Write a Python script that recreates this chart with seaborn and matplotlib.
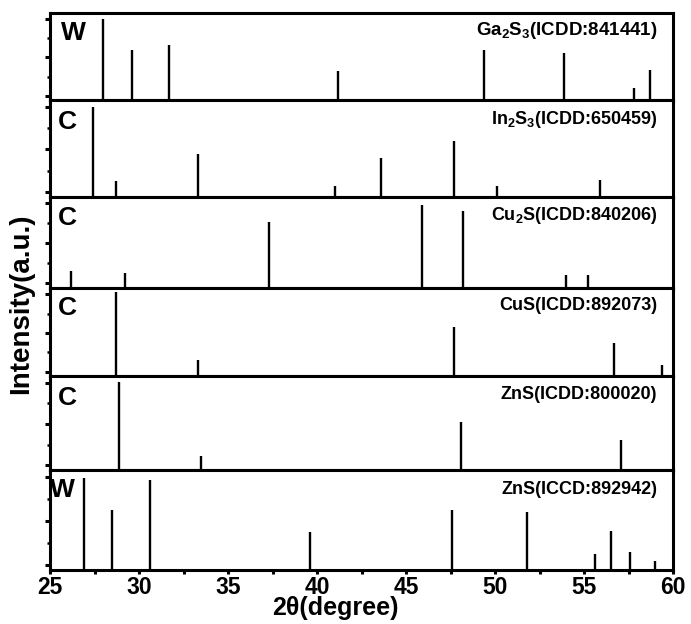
import matplotlib
matplotlib.use("Agg")
import matplotlib.pyplot as plt
import seaborn as sns
import numpy as np
from matplotlib.ticker import MultipleLocator, FixedLocator

# ---- data (2theta positions, relative intensities) ----
ga2s3_pos = [28.0, 29.6, 31.7, 41.2, 49.4, 53.9, 57.8, 58.7]
ga2s3_int = [93, 57, 63, 33, 57, 54, 14, 34]

in2s3_pos = [27.4, 28.7, 33.3, 41.0, 43.6, 47.7, 50.1, 55.9]
in2s3_int = [93, 17, 44, 11, 40, 58, 11, 18]

cu2s_pos = [26.2, 29.2, 37.3, 45.9, 48.2, 54.0, 55.2]
cu2s_int = [19, 17, 73, 91, 85, 14, 14]

cus_pos = [28.7, 33.3, 47.7, 56.7, 59.4]
cus_int = [96, 18, 56, 38, 12]

zns1_pos = [28.9, 33.5, 48.1, 57.1]
zns1_int = [94, 15, 51, 32]

zns2_pos = [26.9, 28.5, 30.6, 39.6, 47.6, 51.8, 55.6, 56.5, 57.6, 59.0]
zns2_int = [92, 60, 90, 38, 60, 58, 16, 39, 18, 9]

panel_tags = ["W", "C", "C", "C", "C", "W"]
panel_names = [r"Ga$_2$S$_3$(ICDD:841441)", r"In$_2$S$_3$(ICDD:650459)",
               r"Cu$_2$S(ICDD:840206)", "CuS(ICDD:892073)",
               "ZnS(ICDD:800020)", "ZnS(ICCD:892942)"]
positions = [ga2s3_pos, in2s3_pos, cu2s_pos, cus_pos, zns1_pos, zns2_pos]
intensities = [ga2s3_int, in2s3_int, cu2s_int, cus_int, zns1_int, zns2_int]

x_ticks = [25, 30, 35, 40, 45, 50, 55, 60]
x_label = "2\u03b8(degree)"
y_label = "Intensity(a.u.)"

# ---- style ----
sns.set_theme(style="ticks")
plt.rcParams["font.family"] = ["Liberation Sans", "DejaVu Sans"]
plt.rcParams["font.weight"] = "bold"
plt.rcParams["text.color"] = "black"
plt.rcParams["axes.labelcolor"] = "black"
plt.rcParams["xtick.color"] = "black"
plt.rcParams["ytick.color"] = "black"
plt.rcParams["mathtext.fontset"] = "custom"
plt.rcParams["mathtext.default"] = "bf"
plt.rcParams["mathtext.bf"] = "Liberation Sans:bold"
plt.rcParams["mathtext.rm"] = "Liberation Sans:bold"

fig = plt.figure(figsize=(6.91, 6.24), dpi=100)
gs = fig.add_gridspec(6, 1, height_ratios=[87, 97, 91, 88, 94, 100], hspace=0,
                      left=50/691, right=673/691, top=1-13/624, bottom=1-570/624)

name_sizes = [13.5, 13, 13, 13, 13, 13]
axes = []
for i in range(6):
    ax = fig.add_subplot(gs[i])
    axes.append(ax)
    ax.vlines(positions[i], 0, intensities[i], color="black", linewidth=1.7)
    ax.set_xlim(25, 60)
    ax.set_ylim(0, 100)
    for s in ax.spines.values():
        s.set_linewidth(2.2)
        s.set_color("black")
    ax.xaxis.set_major_locator(FixedLocator(x_ticks))
    ax.xaxis.set_minor_locator(MultipleLocator(2.5))
    ax.yaxis.set_major_locator(FixedLocator([5, 49, 93]))
    ax.yaxis.set_minor_locator(FixedLocator([27, 71]))
    ax.tick_params(axis="both", which="both", direction="out", color="black")
    ax.tick_params(axis="x", which="both", length=3, width=2.2)
    ax.tick_params(axis="y", which="major", length=3.5, width=2.2)
    ax.tick_params(axis="y", which="minor", length=2.5, width=1.8)
    ax.set_yticklabels([])
    ax.set_ylabel("")
    ax.text(0.975, 0.80, panel_names[i], transform=ax.transAxes, ha="right",
            va="center", fontsize=name_sizes[i], fontweight="bold", color="black")
    if i == 5:
        tx, ty = 0.0, 0.80
    elif i == 0:
        tx, ty = 0.018, 0.77
    else:
        tx, ty = 0.012, 0.77
    ax.text(tx, ty, panel_tags[i], transform=ax.transAxes, ha="left",
            va="center", fontsize=19, fontweight="bold", color="black")
    if i < 5:
        ax.tick_params(axis="x", labelbottom=False)

ax = axes[-1]
ax.set_xticklabels([str(t) for t in x_ticks], fontsize=16.5, fontweight="bold")
ax.tick_params(axis="x", pad=1)
ax.set_xlabel(x_label, fontsize=18, fontweight="bold")
ax.xaxis.set_label_coords((335 - 50) / 623, -0.265)
fig.text(0.03, (1 - (210 + 397) / 2 / 624), y_label, rotation=90, ha="center",
         va="center", fontsize=20, fontweight="bold", color="black")

fig.savefig("out.png", dpi=100)
